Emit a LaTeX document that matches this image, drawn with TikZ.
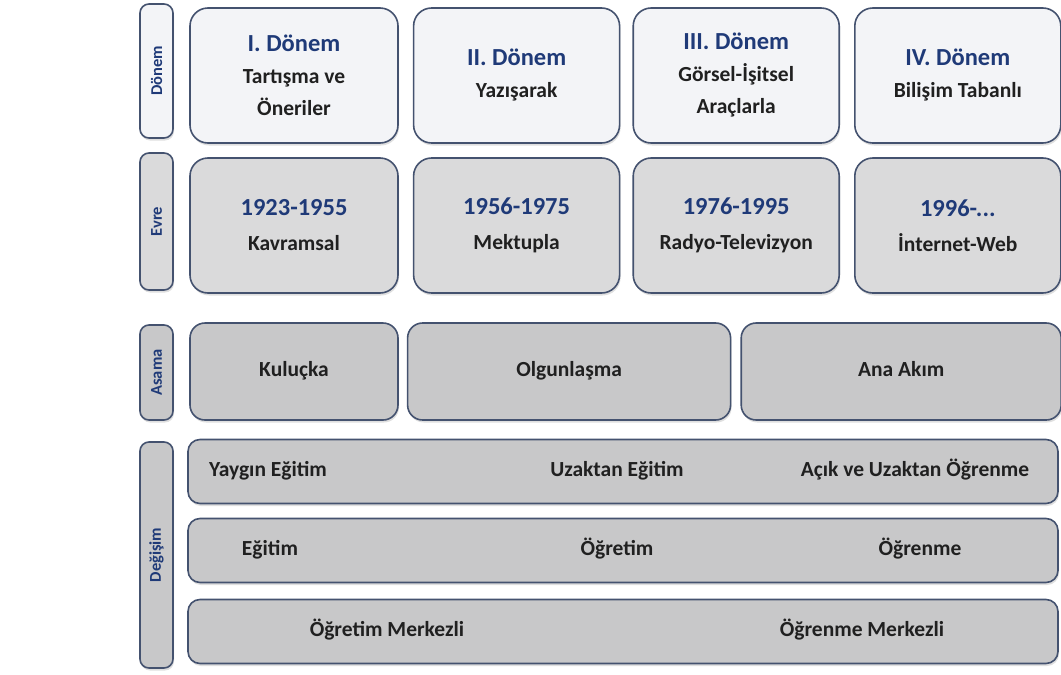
\documentclass[tikz,border=0pt]{standalone}
\usepackage{fontspec}
\setmainfont{Carlito}
\usetikzlibrary{positioning, shadows}

\definecolor{edgeblue}{HTML}{44526F}
\definecolor{titleblue}{HTML}{1F3A78}
\definecolor{textdark}{HTML}{202020}
\definecolor{lightfill}{HTML}{F3F4F7}
\definecolor{midfill}{HTML}{DADADB}
\definecolor{darkfill}{HTML}{C8C8C9}

\newcommand{\ttl}[1]{{\color{titleblue}\fontsize{24.5}{32}\selectfont #1}}

\begin{document}
\begin{tikzpicture}[
        x=1pt, y=-1pt,
        node distance=13pt,
        box/.style={rectangle, rounded corners=18pt, draw=edgeblue, line width=1.6pt, align=center, text=textdark, inner sep=0pt, font=\bfseries\fontsize{21.5}{32}\selectfont, drop shadow={shadow xshift=1pt, shadow yshift=-2.5pt, opacity=0.25}},
        period/.style={box, fill=lightfill, minimum width=206pt, minimum height=135pt},
        phase/.style={box, fill=midfill, minimum width=206pt, minimum height=135pt, font=\bfseries\fontsize{21.5}{35}\selectfont},
        stage/.style={box, fill=darkfill, rounded corners=15pt, minimum height=97pt, text height=15pt, text depth=5pt},
        band/.style={box, fill=darkfill, rounded corners=12pt, minimum width=870pt, minimum height=64pt},
        tag/.style={box, rotate=90, rounded corners=9pt, minimum height=33pt, text=titleblue, font=\bfseries\fontsize{16.5}{18}\selectfont},
        word/.style={text=textdark, inner sep=0pt, text height=15pt, text depth=5pt, font=\bfseries\fontsize{21.5}{24}\selectfont}
    ]
        \useasboundingbox (0,0) rectangle (1061,675);

        % Side labels
        \node[tag, fill=lightfill, minimum width=134pt] (tdonem) at (156.5,71) {Dönem};
        \node[tag, fill=midfill, minimum width=137pt] (tevre) at (156.5,221.5) {Evre};
        \node[tag, fill=darkfill, minimum width=95pt] (tasama) at (156.5,372.5) {Asama};
        \node[tag, fill=darkfill, minimum width=226pt] (tdegisim) at (156.5,555) {Değişim};

        % Dönem row
        \node[period, minimum width=208pt] (d1) at (294,75.5) {\ttl{I. Dönem}\\Tartışma ve\\Öneriler};
        \node[period, right=14pt of d1] (d2) {\ttl{II. Dönem}\\Yazışarak};
        \node[period, right=12pt of d2] (d3) {\ttl{III. Dönem}\\Görsel-İşitsel\\Araçlarla};
        \node[period, right=14pt of d3] (d4) {\ttl{IV. Dönem}\\Bilişim Tabanlı};

        % Evre row
        \node[phase, minimum width=208pt] (e1) at (294,225.5) {\ttl{1923-1955}\\Kavramsal};
        \node[phase, right=14pt of e1] (e2) {\ttl{1956-1975}\\Mektupla};
        \node[phase, right=12pt of e2] (e3) {\ttl{1976-1995}\\Radyo-Televizyon};
        \node[phase, right=14pt of e3] (e4) {\ttl{1996-...}\\İnternet-Web};

        % Asama row
        \node[stage, minimum width=208pt] (a1) at (294,371.5) {Kuluçka};
        \node[stage, minimum width=323pt, right=8pt of a1] (a2) {Olgunlaşma};
        \node[stage, minimum width=320pt, right=9pt of a2] (a3) {Ana Akım};

        % Değişim rows
        \node[band] (b1) at (623,471.5) {};
        \node[band] (b2) at (623,550.5) {};
        \node[band] (b3) at (623,631.5) {};

        \node[word] (yaygin) at (268,471.5) {Yaygın Eğitim};
        \node[word] (uzaktan) at (617,471.5) {Uzaktan Eğitim};
        \node[word] (acik) at (915,471.5) {Açık ve Uzaktan Öğrenme};
        \node[word] (egitim) at (270,550.5) {Eğitim};
        \node[word] (ogretim) at (617,550.5) {Öğretim};
        \node[word] (ogrenme) at (920,550.5) {Öğrenme};
        \node[word] (ogretimm) at (387,631.5) {Öğretim Merkezli};
        \node[word] (ogrenmem) at (862,631.5) {Öğrenme Merkezli};
    \end{tikzpicture}
\end{document}
